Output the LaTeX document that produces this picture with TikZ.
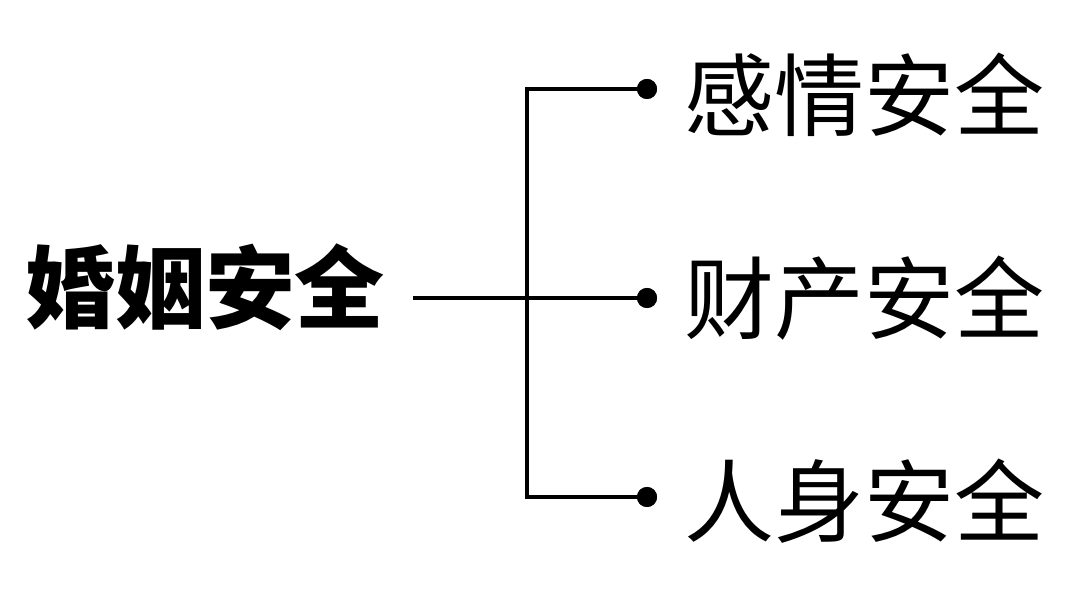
\documentclass[tikz,border=0pt]{standalone}
\usepackage{fontspec}
\newfontfamily\cjk{Noto Sans CJK SC}
\usetikzlibrary{positioning, calc}
\tikzset{
    topic/.style={
        inner sep=0pt,
        text height=54pt,
        text depth=5pt,
        font=\cjk\fontsize{64}{70}\selectfont
    },
    wire/.style={
        line width=2.5pt,
        line join=miter
    },
    dot/.style={
        circle,
        fill=black,
        inner sep=0pt,
        minimum size=0.5cm
    }
}

\begin{document}
\begin{tikzpicture}[x=0.025cm, y=-0.025cm]
    \useasboundingbox[fill=white] (0,0) rectangle (1080,590);
    % root on the left, three branches fanning out to the right
    \node[topic, font=\cjk\bfseries\fontsize{64}{70}\selectfont] (marriage) at (205,287) {婚姻安全};
    \coordinate (trunk) at (527,298);
    \node[dot] (dfeel)  at (647,89)  {};
    \node[dot] (dmoney) at (647,298) {};
    \node[dot] (dbody)  at (647,497) {};
    \node[topic, anchor=west] (feel)  at (684,95)  {感情安全};
    \node[topic, anchor=west] (money) at (684,298) {财产安全};
    \node[topic, anchor=west] (body)  at (684,501) {人身安全};

    \draw[wire, shorten <=0.7cm] (marriage.east |- dmoney) -- (dmoney.center);
    \draw[wire] (dfeel.center) -- (dfeel -| trunk) -- (dbody -| trunk) -- (dbody.center);
    \node[dot] at (dfeel) {};
    \node[dot] at (dmoney) {};
    \node[dot] at (dbody) {};
\end{tikzpicture}
\end{document}
